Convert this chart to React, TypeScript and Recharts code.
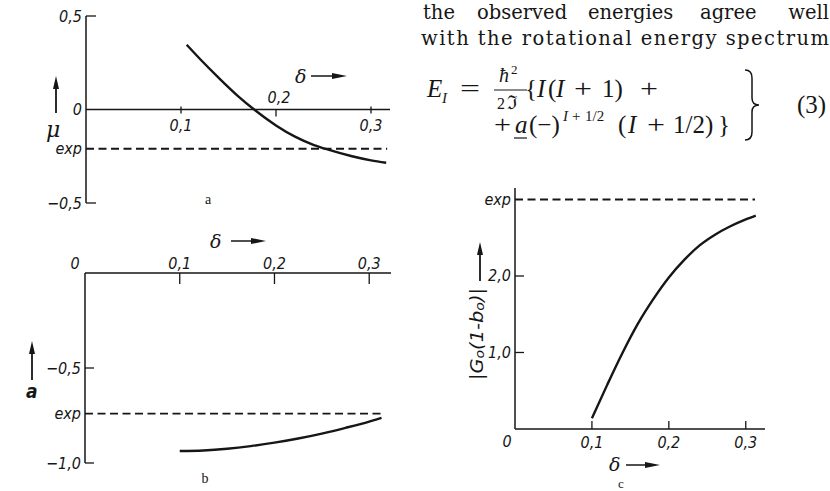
import React from "react";
import { LineChart, Line, XAxis, YAxis, ReferenceLine, ReferenceDot } from "recharts";

const INK = "#161616";

// panel a: mu against delta
const deltaA = [0.106, 0.12, 0.14, 0.16, 0.177, 0.2, 0.22, 0.24, 0.255, 0.28, 0.3, 0.316];
const muA = [0.346, 0.27, 0.168, 0.072, 0, -0.085, -0.145, -0.19, -0.215, -0.25, -0.272, -0.285];
const expA = -0.21;
const expEndA = 0.317;

// panel b: a against delta
const deltaB = [0.1, 0.125, 0.15, 0.175, 0.2, 0.225, 0.25, 0.275, 0.3, 0.313];
const aB = [-0.937, -0.934, -0.925, -0.911, -0.893, -0.871, -0.845, -0.815, -0.782, -0.762];
const expB = -0.74;
const expEndB = 0.315;

// panel c: |G0(1-b0)| against delta
const deltaC = [0.1, 0.12, 0.14, 0.16, 0.18, 0.2, 0.22, 0.24, 0.26, 0.28, 0.3, 0.313];
const gC = [0.14, 0.58, 1.0, 1.38, 1.7, 1.98, 2.21, 2.4, 2.54, 2.65, 2.74, 2.79];
const expC = 3.0;
const expEndC = 0.312;

const xTicks = [0.1, 0.2, 0.3];
const xTickLabels = ["0,1", "0,2", "0,3"];
const yTicksA = [0.5, -0.5];
const yLabelsA = ["0,5", "−0,5"];
const yTicksB = [-0.5, -1.0];
const yLabelsB = ["−0,5", "−1,0"];
const yTicksC = [1.0, 2.0];
const yLabelsC = ["1,0", "2,0"];

const curveA = deltaA.map((d, i) => ({ d, v: muA[i] }));
const curveB = deltaB.map((d, i) => ({ d, v: aB[i] }));
const curveC = deltaC.map((d, i) => ({ d, v: gC[i] }));
const dashA = [{ d: 0, v: expA }, { d: expEndA, v: expA }];
const dashB = [{ d: 0, v: expB }, { d: expEndB, v: expB }];
const dashC = [{ d: 0, v: expC }, { d: expEndC, v: expC }];

const tickFont = {
  fontFamily: "'Liberation Sans Narrow', 'DejaVu Sans Condensed', 'Liberation Sans', sans-serif",
  fontStyle: "italic" as const,
  fontSize: 16,
  fill: INK,
};
const body = { fontFamily: "'DejaVu Serif', serif", fontSize: 19.5, fill: INK };
const math = { fontFamily: "'Liberation Serif', 'DejaVu Serif', serif", fontSize: 25, fill: INK };
const ital = { fontStyle: "italic" as const };

const xTickShape = (label: string, up: number, down: number, dx: number, dy: number) => (p: any) => (
  <g>
    {up || down ? (
      <line x1={p.cx} x2={p.cx} y1={p.cy - up} y2={p.cy + down} stroke={INK} strokeWidth={1.3} />
    ) : null}
    <text x={p.cx + dx} y={p.cy + dy} textAnchor="middle" dominantBaseline="central" style={tickFont}>
      {label}
    </text>
  </g>
);

const yTickShape = (label: string, len: number) => (p: any) => (
  <g>
    {len ? <line x1={p.cx} x2={p.cx + len} y1={p.cy} y2={p.cy} stroke={INK} strokeWidth={1.3} /> : null}
    <text x={p.cx - 4} y={p.cy} textAnchor="end" dominantBaseline="central" style={tickFont}>
      {label}
    </text>
  </g>
);

const axisProps = { stroke: INK, strokeWidth: 1.5 };
const curveProps = {
  dataKey: "v",
  type: "monotone" as const,
  dot: false,
  stroke: INK,
  strokeWidth: 2.4,
  isAnimationActive: false,
};
const dashProps = {
  dataKey: "v",
  type: "linear" as const,
  dot: false,
  stroke: INK,
  strokeWidth: 1.8,
  strokeDasharray: "8 4.5",
  isAnimationActive: false,
};

function PanelA() {
  return (
    <LineChart width={420} height={235} margin={{ top: 16, right: 30, bottom: 32, left: 86 }}>
      <XAxis type="number" dataKey="d" domain={[0, 0.32]} allowDataOverflow hide />
      <YAxis type="number" domain={[-0.5, 0.5]} allowDataOverflow hide />
      <ReferenceLine segment={[{ x: 0, y: 0.5 }, { x: 0, y: -0.5 }]} {...axisProps} />
      <ReferenceLine segment={[{ x: 0, y: 0 }, { x: 0.32, y: 0 }]} {...axisProps} />
      {xTicks.map((t, i) => (
        <ReferenceDot
          key={t}
          x={t}
          y={0}
          r={0}
          shape={t === 0.2 ? xTickShape(xTickLabels[i], 0, 7, 3, -12) : xTickShape(xTickLabels[i], 3, 4, 0, 16)}
        />
      ))}
      {yTicksA.map((t, i) => (
        <ReferenceDot key={t} x={0} y={t} r={0} shape={yTickShape(yLabelsA[i], 10)} />
      ))}
      <ReferenceDot x={0} y={0} r={0} shape={yTickShape("0", 0)} />
      <ReferenceDot x={0} y={expA} r={0} shape={yTickShape("exp", 0)} />
      <Line data={dashA} {...dashProps} />
      <Line data={curveA} {...curveProps} />
    </LineChart>
  );
}

function PanelB() {
  return (
    <LineChart width={420} height={256} margin={{ top: 38, right: 29, bottom: 28, left: 85 }}>
      <XAxis type="number" dataKey="d" domain={[0, 0.323]} allowDataOverflow hide />
      <YAxis type="number" domain={[-1, 0]} allowDataOverflow hide />
      <ReferenceLine segment={[{ x: 0, y: 0 }, { x: 0, y: -1 }]} {...axisProps} />
      <ReferenceLine segment={[{ x: 0, y: 0 }, { x: 0.323, y: 0 }]} {...axisProps} />
      {xTicks.map((t, i) => (
        <ReferenceDot key={t} x={t} y={0} r={0} shape={xTickShape(xTickLabels[i], 0, 11, 0, -10)} />
      ))}
      <ReferenceDot x={0} y={0} r={0} shape={xTickShape("0", 0, 0, -10, -10)} />
      {yTicksB.map((t, i) => (
        <ReferenceDot key={t} x={0} y={t} r={0} shape={yTickShape(yLabelsB[i], 9)} />
      ))}
      <ReferenceDot x={0} y={expB} r={0} shape={yTickShape("exp", 0)} />
      <Line data={dashB} {...dashProps} />
      <Line data={curveB} {...curveProps} />
    </LineChart>
  );
}

function PanelC() {
  return (
    <LineChart width={410} height={331} margin={{ top: 28, right: 65, bottom: 62, left: 95 }}>
      <XAxis type="number" dataKey="d" domain={[0, 0.325]} allowDataOverflow hide />
      <YAxis type="number" domain={[0, 3.15]} allowDataOverflow hide />
      <ReferenceLine segment={[{ x: 0, y: 0 }, { x: 0, y: 3.15 }]} {...axisProps} />
      <ReferenceLine segment={[{ x: 0, y: 0 }, { x: 0.325, y: 0 }]} {...axisProps} />
      {xTicks.map((t, i) => (
        <ReferenceDot key={t} x={t} y={0} r={0} shape={xTickShape(xTickLabels[i], 8, 0, 0, 13)} />
      ))}
      <ReferenceDot x={0} y={0} r={0} shape={xTickShape("0", 0, 0, -8, 12)} />
      {yTicksC.map((t, i) => (
        <ReferenceDot key={t} x={0} y={t} r={0} shape={yTickShape(yLabelsC[i], 9)} />
      ))}
      <ReferenceDot x={0} y={expC} r={0} shape={yTickShape("exp", 0)} />
      <Line data={dashC} {...dashProps} />
      <Line data={curveC} {...curveProps} />
    </LineChart>
  );
}

const ArrowRight = ({ x1, x2, y }: { x1: number; x2: number; y: number }) => (
  <g>
    <line x1={x1} x2={x2 - 8} y1={y} y2={y} stroke={INK} strokeWidth={1.5} />
    <polygon points={`${x2 - 15},${y - 3} ${x2},${y} ${x2 - 15},${y + 3}`} fill={INK} />
  </g>
);

const ArrowUp = ({ x, y1, y2 }: { x: number; y1: number; y2: number }) => (
  <g>
    <line x1={x} x2={x} y1={y1} y2={y2 + 8} stroke={INK} strokeWidth={1.8} />
    <polygon points={`${x - 3},${y2 + 13} ${x},${y2} ${x + 3},${y2 + 13}`} fill={INK} />
  </g>
);

const delta = { fontFamily: "'DejaVu Serif', serif", fontStyle: "italic" as const, fontSize: 19, fill: INK };
const caption = { fontFamily: "'Liberation Serif', serif", fontSize: 14, fill: INK };

function Annotations() {
  return (
    <svg width={830} height={491} style={{ position: "absolute", left: 0, top: 0, pointerEvents: "none" }}>
      {/* running text */}
      <text x={423} y={19} style={body}>the</text>
      <text x={477} y={19} style={body}>observed</text>
      <text x={588} y={19} style={body}>energies</text>
      <text x={700} y={19} style={body}>agree</text>
      <text x={829} y={19} textAnchor="end" style={body}>well</text>
      <text x={421} y={45} textLength={408} lengthAdjust="spacing" style={body}>
        with the rotational energy spectrum
      </text>

      {/* equation (3), first line */}
      <text x={427} y={97} style={{ ...math, ...ital }}>E</text>
      <text x={442} y={103} style={{ ...math, ...ital, fontSize: 15 }}>I</text>
      <text x={460} y={97} textLength={20} lengthAdjust="spacingAndGlyphs" style={math}>=</text>
      <text x={499} y={82} style={{ ...math, ...ital, fontSize: 20 }}>ħ</text>
      <text x={511} y={74} style={{ ...math, fontSize: 13 }}>2</text>
      <line x1={494} x2={527} y1={90} y2={90} stroke={INK} strokeWidth={1} />
      <text x={497} y={109} style={{ ...math, fontSize: 16 }}>2</text>
      <text x={507} y={109} style={{ ...math, fontSize: 19 }}>ℑ</text>
      <text x={525} y={97} style={math}>{"{"}</text>
      <text x={537} y={97} style={{ ...math, ...ital }}>I</text>
      <text x={548} y={97} style={math}>(</text>
      <text x={556} y={97} style={{ ...math, ...ital }}>I</text>
      <text x={574} y={97} textLength={18} lengthAdjust="spacingAndGlyphs" style={math}>+</text>
      <text x={602} y={97} style={math}>1)</text>
      <text x={640} y={97} textLength={18} lengthAdjust="spacingAndGlyphs" style={math}>+</text>

      {/* second line */}
      <text x={494} y={133} textLength={17} lengthAdjust="spacingAndGlyphs" style={math}>+</text>
      <text x={515} y={133} style={{ ...math, ...ital }}>a</text>
      <line x1={514} x2={527} y1={138} y2={138} stroke={INK} strokeWidth={1.2} />
      <text x={529} y={133} style={math}>(−)</text>
      <text x={563} y={121} style={{ ...math, ...ital, fontSize: 15 }}>I</text>
      <text x={572} y={121} style={{ ...math, fontSize: 15 }}>+</text>
      <text x={585} y={121} style={{ ...math, fontSize: 15 }}>1/2</text>
      <text x={618} y={133} style={math}>(</text>
      <text x={628} y={133} style={{ ...math, ...ital }}>I</text>
      <text x={647} y={133} textLength={18} lengthAdjust="spacingAndGlyphs" style={math}>+</text>
      <text x={673} y={133} style={math}>1/2)</text>
      <text x={718} y={133} style={math}>{"}"}</text>
      <path
        d="M745,70 Q752,70 752,78 L752,98 Q752,105 759,105 Q752,105 752,112 L752,132 Q752,140 745,140"
        fill="none"
        stroke={INK}
        strokeWidth={1.5}
      />
      <text x={797} y={113} style={math}>(3)</text>

      {/* panel a labels */}
      <text x={295} y={83} style={delta}>δ</text>
      <ArrowRight x1={311} x2={347} y={76} />
      <ArrowUp x={56} y1={113} y2={76} />
      <text x={46} y={137} style={{ ...delta, fontSize: 22 }}>μ</text>
      <text x={208} y={204} textAnchor="middle" style={caption}>a</text>

      {/* panel b labels */}
      <text x={210} y={248} style={delta}>δ</text>
      <ArrowRight x1={231} x2={266} y={241} />
      <ArrowUp x={32} y1={380} y2={341} />
      <text x={26} y={398} style={{ ...tickFont, fontSize: 19, fontWeight: 700 }}>a</text>
      <text x={205} y={483} textAnchor="middle" style={caption}>b</text>

      {/* panel c labels */}
      <text x={609} y={471} style={delta}>δ</text>
      <ArrowRight x1={626} x2={660} y={465} />
      <ArrowUp x={480} y1={281} y2={242} />
      <text
        x={476}
        y={334}
        transform="rotate(-90 476 334)"
        textAnchor="middle"
        dominantBaseline="central"
        textLength={92}
        lengthAdjust="spacingAndGlyphs"
        style={{ ...tickFont, fontSize: 18 }}
      >
        |G<tspan fontSize={13} dy={3}>o</tspan>
        <tspan dy={-3}>(1-b</tspan>
        <tspan fontSize={13} dy={3}>o</tspan>
        <tspan dy={-3}>)|</tspan>
      </text>
      <text x={621} y={488} textAnchor="middle" style={{ ...caption, fontSize: 13 }}>c</text>
    </svg>
  );
}

export default function App() {
  return (
    <div
      style={{
        position: "absolute",
        left: 0,
        top: 0,
        width: 830,
        height: 491,
        background: "#fff",
        overflow: "hidden",
      }}
    >
      <div style={{ position: "absolute", left: 0, top: 0 }}>
        <PanelA />
      </div>
      <div style={{ position: "absolute", left: 0, top: 235 }}>
        <PanelB />
      </div>
      <div style={{ position: "absolute", left: 420, top: 160 }}>
        <PanelC />
      </div>
      <Annotations />
    </div>
  );
}
